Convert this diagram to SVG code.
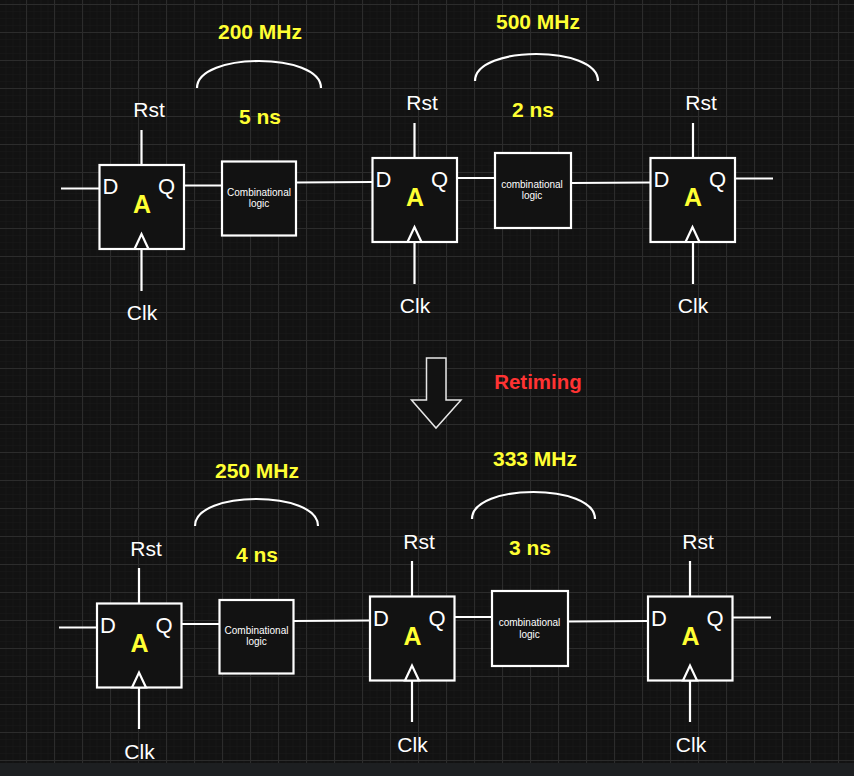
<svg xmlns="http://www.w3.org/2000/svg" width="854" height="776" viewBox="0 0 854 776">
<style>
.s{fill:#121212;stroke:#fff;stroke-width:2.200}
.l{fill:none;stroke:#fff;stroke-width:2.200}
text{font-family:"Liberation Sans",Arial,sans-serif;text-anchor:middle}
.t{fill:#fff;font-size:21px}
.d{fill:#fff;font-size:22px}
.c{fill:#fff;font-size:10px}
.y{fill:#ffff33;font-size:21px;font-weight:bold}
.a{fill:#ffff33;font-size:25px;font-weight:bold}
</style>
<defs>
<pattern id="minor" width="7" height="7" patternUnits="userSpaceOnUse" x="5.500" y="4">
<path d="M0 0V7M0 0H7" fill="none" stroke="#191919" stroke-width="1"/>
</pattern>
<pattern id="major" width="28" height="28" patternUnits="userSpaceOnUse" x="26" y="4">
<path d="M.5 0V28M0 .5H28" fill="none" stroke="#2c2c2c" stroke-width="1"/>
</pattern>
<g id="ff">
<rect class="s" x="0" y="0" width="84.500" height="84"/>
<path class="s" d="M35 84L42 69L49 84Z"/>
<text class="d" x="11" y="29">D</text>
<text class="d" x="67" y="29">Q</text>
<text class="a" x="42.500" y="48">A</text>
</g>
</defs>
<rect width="854" height="776" fill="#121212"/>
<rect width="854" height="763" fill="url(#minor)"/>
<rect width="854" height="763" fill="url(#major)"/>
<rect y="763" width="854" height="13" fill="#1d1f21"/>
<g id="connectors">
<path class="l" d="M61 188.500H99M141.500 130V165M141.500 249V291M184 185.500H222M296 182.500L372 182M414.500 123V158M414.500 242V284M457 178H495M571 183L650 182.500M693 123V158M693 242V284M735 178.500H773"/>
<path class="l" d="M59 627.500H97M139 568V603M139 687V729M182 624H219M293 621L369 620.500M412 561V596M412 680V722M455 617H492M568 621.500L648 621M690 561V596M690 680V722M733 617.500H771"/>
<path class="l" d="M197 88C197 52 321 52 321 88"/>
<path class="l" d="M475 81C475 45 598 45 598 81"/>
<path class="l" d="M195 526C195 490 318 490 318 526"/>
<path class="l" d="M472 519C472 483 595 483 595 519"/>
</g>
<g id="ff1"><use href="#ff" x="99.500" y="165"/><text class="t" x="149" y="117">Rst</text><text class="t" x="142" y="320">Clk</text></g>
<g id="ff2"><use href="#ff" x="372.500" y="158"/><text class="t" x="422" y="110">Rst</text><text class="t" x="415" y="313">Clk</text></g>
<g id="ff3"><use href="#ff" x="650.500" y="158"/><text class="t" x="701" y="110">Rst</text><text class="t" x="693" y="313">Clk</text></g>
<g id="ff4"><use href="#ff" x="97" y="603.500"/><text class="t" x="146" y="556">Rst</text><text class="t" x="139.500" y="759">Clk</text></g>
<g id="ff5"><use href="#ff" x="370" y="596.500"/><text class="t" x="419" y="549">Rst</text><text class="t" x="412.500" y="752">Clk</text></g>
<g id="ff6"><use href="#ff" x="648" y="596.500"/><text class="t" x="698" y="549">Rst</text><text class="t" x="691" y="752">Clk</text></g>
<g id="logic1"><rect class="s" x="222" y="161.500" width="74" height="74"/><text class="c" x="259" y="196">Combinational</text><text class="c" x="259" y="207">logic</text></g>
<g id="logic2"><rect class="s" x="495" y="153" width="76" height="75"/><text class="c" x="532" y="188">combinational</text><text class="c" x="532" y="199">logic</text></g>
<g id="logic3"><rect class="s" x="219.500" y="600" width="74" height="73.500"/><text class="c" x="256.500" y="634">Combinational</text><text class="c" x="256.500" y="645">logic</text></g>
<g id="logic4"><rect class="s" x="492" y="591" width="76" height="75"/><text class="c" x="529.500" y="626">combinational</text><text class="c" x="529.500" y="638">logic</text></g>
<g id="labels">
<text class="y" x="260" y="39">200 MHz</text>
<text class="y" x="538" y="29">500 MHz</text>
<text class="y" x="260" y="124">5 ns</text>
<text class="y" x="533" y="117">2 ns</text>
<text class="y" x="257" y="478">250 MHz</text>
<text class="y" x="535" y="466">333 MHz</text>
<text class="y" x="257" y="562">4 ns</text>
<text class="y" x="530" y="555">3 ns</text>
<text x="538" y="389" font-size="20.500" font-weight="bold" fill="#ff3333">Retiming</text>
</g>
<g id="arrow"><path d="M426.500 358H446V400H461L436 428L411.500 400H426.500Z" fill="#121212" stroke="#e6e6e6" stroke-width="1.500"/></g>
</svg>
